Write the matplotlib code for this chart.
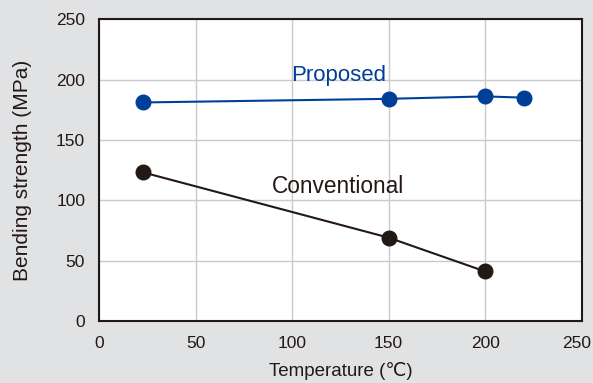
import matplotlib.pyplot as plt
from matplotlib.transforms import ScaledTranslation

# data
temp_proposed = [23, 150, 200, 220]
strength_proposed = [181, 184, 186, 185]

temp_conventional = [23, 150, 200]
strength_conventional = [123, 69, 41]

ticks = [0, 50, 100, 150, 200, 250]

plt.rcParams['font.family'] = ['Liberation Sans', 'DejaVu Sans']

bg = '#e1e2e4'
blue = '#003f98'
dark = '#231815'

fig = plt.figure(figsize=(5.93, 3.83), dpi=100, facecolor=bg)
ax = fig.add_axes([0.167, 0.162, 0.814, 0.788])
ax.set_facecolor('white')

ax.plot(temp_proposed, strength_proposed, color=blue, lw=1.5,
        marker='o', ms=10.5, zorder=3)
ax.plot(temp_conventional, strength_conventional, color=dark, lw=1.5,
        marker='o', ms=10.5, zorder=3)

ax.text(124, 203.5, 'Proposed', color=blue, fontsize=16,
        ha='center', va='center')
ax.text(124, 111.5, 'Conventional', color=dark, fontsize=16.3,
        ha='center', va='center')

ax.set_xlim(0, 250)
ax.set_ylim(0, 250)
ax.set_xticks(ticks)
ax.set_yticks(ticks)
ax.tick_params(length=0, labelsize=12.5, colors=dark)
ax.tick_params(axis='x', pad=11)
ax.tick_params(axis='y', pad=10)
ax.grid(True, color='#c8cacf', lw=1)
ax.set_axisbelow(True)
for s in ax.spines.values():
    s.set_color(dark)
    s.set_linewidth(1.5)

# the last x label sits at the figure edge, nudge it in a bit
last = ax.get_xticklabels()[-1]
last.set_transform(last.get_transform() + ScaledTranslation(-4 / 72, 0, fig.dpi_scale_trans))

ax.set_xlabel('Temperature (℃)', fontsize=13.5, color=dark, labelpad=7.5)
ax.set_ylabel('Bending strength (MPa)', fontsize=15, color=dark, labelpad=17)

plt.savefig('out.png', dpi=100, facecolor=bg)
